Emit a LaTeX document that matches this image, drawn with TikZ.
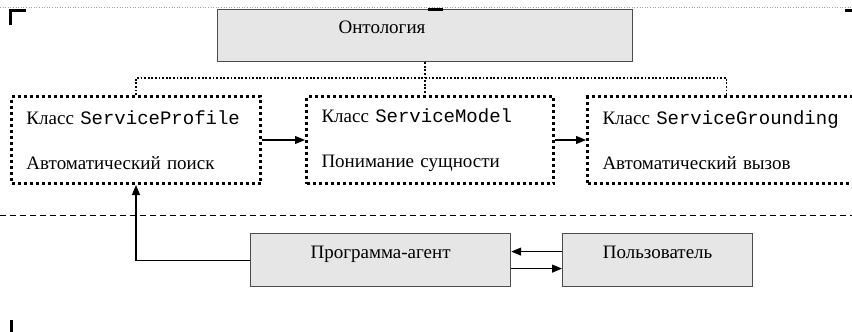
\documentclass[tikz,border=0pt]{standalone}
\usepackage{fontspec}
\setmainfont{Liberation Serif}
\setmonofont{Liberation Mono}
\usepackage{tikz}
\usetikzlibrary{positioning}
\usetikzlibrary{arrows.meta}

\definecolor{boxgrey}{HTML}{E6E6E6}
\definecolor{framegrey}{HTML}{9AA3A8}

\tikzset{
	classbox/.style={draw, line width=3pt, dash pattern=on 3pt off 3pt,
		align=left, inner xsep=15pt, inner ysep=0pt, minimum height=87pt, anchor=north west},
	greybox/.style={draw=black!70, line width=1.2pt, fill=boxgrey, inner sep=0pt,
		minimum height=53pt, anchor=north west, text height=13pt, text depth=16pt},
	dotline/.style={line width=1.8pt, dash pattern=on 1.8pt off 1.8pt},
	link/.style={line width=1.1pt, -{Triangle[length=10pt,width=8pt]}},
	cornermark/.style={line width=3pt}
}

\begin{document}
\begin{tikzpicture}[x=1pt, y=-1pt, font=\fontsize{19}{22}\selectfont]
	\clip (0,0) rectangle (852,332);

	% frame of the drawing
	\draw[framegrey, line width=0.6pt, dotted] (0,7) -- (852,7);
	\draw[cornermark] (10,25) -- (10,10) -- (26,10);
	\draw[cornermark] (845,10) -- (852,10);
	\draw[cornermark] (11,320) -- (11,332);

	% ontology
	\node[greybox, minimum width=415pt, minimum height=52pt] (onto) at (217,9) {};
	\node (ontotext) at (382,27) {Онтология};
	\draw[cornermark] (428,9.5) -- (443,9.5);

	% classes
	\node[classbox, text width=219pt] (profile) at (10,95)
		{Класс \texttt{ServiceProfile}\\[23pt]Автоматический поиск};
	\node[classbox, text width=217pt] (model) at (305,95)
		{Класс \texttt{ServiceModel}\\[23pt]Понимание сущности};
	\node[classbox, text width=248pt] (grounding) at (586,95)
		{Класс \texttt{ServiceGrounding}\\[23pt]Автоматический вызов};

	\draw[dotline] (profile.north) -- ++(0,-17) -| (grounding.north);
	\draw[dotline] (onto.south) -- (onto.south |- model.north);

	\draw[link] (profile.east) -- (model.west);
	\draw[link] (model.east) -- (grounding.west);

	\draw[line width=1pt, dash pattern=on 6pt off 4pt] (0,215) -- (852,215);

	% agent and user
	\node[greybox, minimum width=260pt] (agent) at (250,233) {Программа-агент};
	\node[greybox, minimum width=190pt] (user) at (562,233) {Пользователь};

	\draw[link] (agent.west) -| (profile.south);
	\draw[link] ([yshift=8.5pt]user.west) -- ([yshift=8.5pt]agent.east);
	\draw[link] ([yshift=-8.5pt]agent.east) -- ([yshift=-8.5pt]user.west);
\end{tikzpicture}
\end{document}
